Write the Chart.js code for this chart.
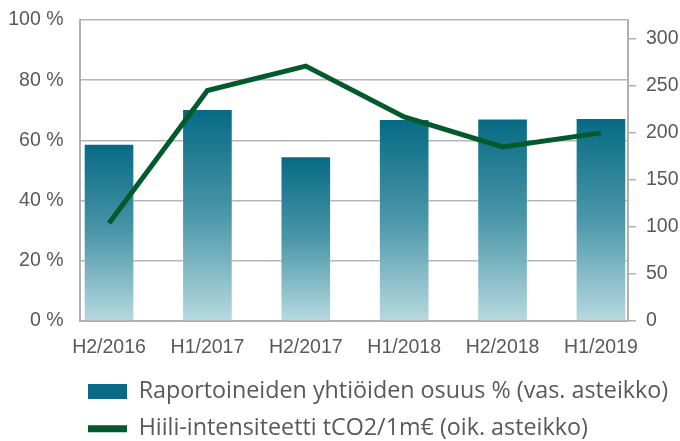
<!DOCTYPE html>
<html>
<head>
<meta charset="utf-8">
<script src="https://cdn.jsdelivr.net/npm/chart.js@4/dist/chart.umd.min.js"></script>
<style>
    html, body { margin: 0; padding: 0; background: #fff; overflow: hidden; }
    #wrap { position: relative; width: 680px; height: 441px; }
</style>
</head>
<body>
<div id="wrap"><canvas id="chart"></canvas></div>
<script>
// Data
const categories = ['H2/2016', 'H1/2017', 'H2/2017', 'H1/2018', 'H2/2018', 'H1/2019'];
const shareValues = [58.8, 70.3, 54.6, 67.0, 67.2, 67.3];          // % (left axis)
const intensityValues = [104, 245, 271, 217, 185, 200];           // tCO2/1m€ (right axis)
const seriesLabels = [
    'Raportoineiden yhtiöiden osuus % (vas. asteikko)',
    'Hiili-intensiteetti tCO2/1m€ (oik. asteikko)'
];

const tickColor = '#595959';
const axisColor = '#b0b0b0';
const barTop = '#086a84';
const lineColor = '#005a2b';
const tickFont = { family: "'Liberation Sans', Arial, sans-serif", size: 19.5 };

// Gradient per bar, from its own top down to the base
function barGradient(context) {
    const chart = context.chart;
    if (!chart.chartArea || context.type !== 'data') return barTop;
    const yScale = chart.scales.y;
    const top = yScale.getPixelForValue(context.parsed.y);
    const base = yScale.getPixelForValue(0);
    const g = chart.ctx.createLinearGradient(0, top, 0, base);
    g.addColorStop(0, '#066a84');
    g.addColorStop(0.5, '#4b97a9');
    g.addColorStop(1, '#b7d9e0');
    return g;
}

// fixed axis width, no extra padding above/below the plot
function fixVertical(width) {
    return (scale) => {
        scale.width = width;
        scale.paddingTop = 0;
        scale.paddingBottom = 0;
    };
}

// move the legend block so that it starts under the plot
const legendShift = {
    id: 'legendShift',
    afterLayout(chart) {
        chart.legend.left = 74;
    }
};

new Chart(document.getElementById('chart'), {
    data: {
        datasets: [{
            type: 'bar',
            label: seriesLabels[0],
            data: shareValues.map((v, i) => ({ x: i, y: v })),
            yAxisID: 'y',
            backgroundColor: barGradient,
            borderColor: 'rgba(255, 255, 255, 0.35)',
            borderWidth: 1,
            barThickness: 50,
            order: 1
        }, {
            type: 'line',
            label: seriesLabels[1],
            data: intensityValues.map((v, i) => ({ x: i, y: v })),
            yAxisID: 'y1',
            borderColor: lineColor,
            borderWidth: 5,
            borderJoinStyle: 'miter',
            pointRadius: 0,
            tension: 0,
            order: 0
        }]
    },
    options: {
        responsive: true,
        maintainAspectRatio: false,
        animation: false,
        layout: { autoPadding: false, padding: { top: 20, left: 0, right: 0, bottom: 0 } },
        plugins: {
            tooltip: { enabled: false },
            legend: {
                position: 'bottom',
                align: 'start',
                maxHeight: 75.15,
                labels: {
                    usePointStyle: true,
                    pointStyleWidth: 39,
                    boxHeight: 15,
                    padding: 14,
                    color: tickColor,
                    font: { family: "'Open Sans', sans-serif", size: 23.3 },
                    generateLabels: (chart) => chart.data.datasets.map((ds, i) => ({
                        text: ds.label,
                        datasetIndex: i,
                        fillStyle: ds.type === 'line' ? lineColor : barTop,
                        strokeStyle: ds.type === 'line' ? lineColor : barTop,
                        lineWidth: ds.type === 'line' ? 7 : 0,
                        pointStyle: ds.type === 'line' ? 'line' : 'rect',
                        fontColor: tickColor,
                        hidden: false
                    }))
                }
            }
        },
        scales: {
            x: {
                type: 'linear',
                offset: false,
                min: -0.295,
                max: 5.275,
                afterBuildTicks: (scale) => {
                    scale.ticks = categories.map((c, i) => ({ value: i }));
                },
                afterFit: (scale) => { scale.height = 44.85; },
                ticks: {
                    callback: (value) => categories[value],
                    color: tickColor,
                    font: tickFont,
                    padding: 7,
                    maxRotation: 0,
                    autoSkip: false
                },
                grid: { display: false },
                border: { color: axisColor, width: 2 }
            },
            y: {
                position: 'left',
                min: 0,
                max: 100,
                z: 1,
                afterFit: fixVertical(80),
                ticks: {
                    stepSize: 20,
                    callback: (value) => value + ' %',
                    color: tickColor,
                    font: tickFont,
                    padding: 16.5
                },
                grid: { color: 'rgba(110, 110, 110, 0.5)', lineWidth: 1.5, drawTicks: false },
                border: { color: axisColor, width: 2 }
            },
            y1: {
                position: 'right',
                min: 0,
                max: 320,
                afterFit: fixVertical(52),
                ticks: {
                    stepSize: 50,
                    includeBounds: false,
                    color: tickColor,
                    font: tickFont,
                    padding: 10
                },
                grid: { drawOnChartArea: false, drawTicks: true, tickLength: 8, color: axisColor, lineWidth: 1.5 },
                border: { color: axisColor, width: 2 }
            }
        }
    },
    plugins: [legendShift]
});
</script>
</body>
</html>
